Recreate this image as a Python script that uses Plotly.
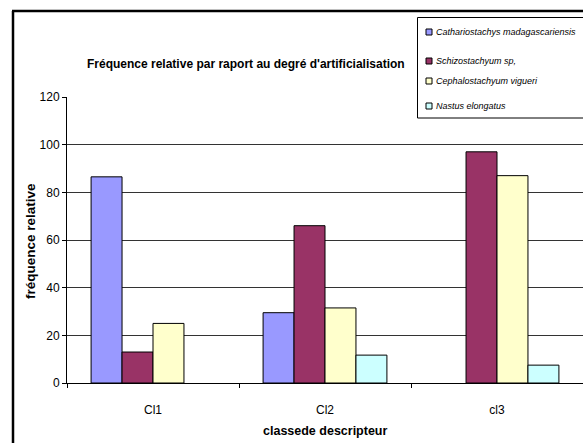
import plotly.graph_objects as go

# Relative frequency of each bamboo species per descriptor class
categories = ["Cl1", "Cl2", "cl3"]
species = [
    "Cathariostachys madagascariensis",
    "Schizostachyum sp,",
    "Cephalostachyum vigueri",
    "Nastus elongatus",
]
cathariostachys = [86.5, 29.5, 0]
schizostachyum = [13, 66, 97]
cephalostachyum = [25, 31.5, 87]
nastus = [0, 11.7, 7.5]
series = [cathariostachys, schizostachyum, cephalostachyum, nastus]
colors = ["#9999FF", "#993366", "#FFFFCC", "#CCFFFF"]

W, H = 583, 443
L, R, T, B = 67, 0, 97, 60
plot_w = W - L - R
plot_h = H - T - B


def px_to_paper_x(px):
    return (px - L) / plot_w


def px_to_paper_y(py):
    return 1 + (T - py) / plot_h


font_main = "Liberation Sans, Arial, sans-serif"

fig = go.Figure()
for name, vals, col in zip(species, series, colors):
    fig.add_trace(go.Bar(
        x=categories, y=vals, name=name,
        marker=dict(color=col,
                    line=dict(color="#000000",
                              width=[1 if v > 0 else 0 for v in vals])),
        showlegend=False,
    ))

shapes = []
annotations = []

# Outer chart frame (left and top edges)
shapes.append(dict(type="line", xref="paper", yref="paper",
                   x0=px_to_paper_x(13), x1=px_to_paper_x(13),
                   y0=px_to_paper_y(11), y1=px_to_paper_y(H + 5),
                   line=dict(color="#000000", width=2.5)))
shapes.append(dict(type="line", xref="paper", yref="paper",
                   x0=px_to_paper_x(12), x1=px_to_paper_x(W + 5),
                   y0=px_to_paper_y(11), y1=px_to_paper_y(11),
                   line=dict(color="#000000", width=2.5)))

# Legend box with swatches and italic labels
shapes.append(dict(type="rect", xref="paper", yref="paper",
                   x0=px_to_paper_x(417.5), x1=px_to_paper_x(W + 5),
                   y0=px_to_paper_y(118), y1=px_to_paper_y(17.5),
                   fillcolor="white", line=dict(color="#000000", width=1),
                   layer="above"))
entry_y = [32, 61, 81, 106]
for name, col, ey in zip(species, colors, entry_y):
    shapes.append(dict(type="rect", xref="paper", yref="paper",
                       x0=px_to_paper_x(426), x1=px_to_paper_x(432),
                       y0=px_to_paper_y(ey + 3), y1=px_to_paper_y(ey - 3),
                       fillcolor=col, line=dict(color="#000000", width=1),
                       layer="above"))
    annotations.append(dict(xref="paper", yref="paper",
                            x=px_to_paper_x(434), y=px_to_paper_y(ey),
                            xanchor="left", yanchor="middle", showarrow=False,
                            text=f"<i>{name}</i>",
                            font=dict(size=9, family=font_main, color="#000000")))

# Chart title
annotations.append(dict(xref="paper", yref="paper",
                        x=px_to_paper_x(246), y=px_to_paper_y(64),
                        xanchor="center", yanchor="middle", showarrow=False,
                        text="<b>Fréquence relative par raport au degré d'artificialisation</b>",
                        font=dict(size=12, family=font_main, color="#000000")))
# Axis titles
annotations.append(dict(xref="paper", yref="paper",
                        x=px_to_paper_x(325), y=px_to_paper_y(431),
                        xanchor="center", yanchor="middle", showarrow=False,
                        text="<b>classede descripteur</b>",
                        font=dict(size=12.5, family=font_main, color="#000000")))
annotations.append(dict(xref="paper", yref="paper",
                        x=px_to_paper_x(30), y=px_to_paper_y(241),
                        xanchor="center", yanchor="middle", showarrow=False,
                        textangle=-90,
                        text="<b>fréquence relative</b>",
                        font=dict(size=13.5, family=font_main, color="#000000")))

fig.update_layout(
    width=W, height=H,
    margin=dict(l=L, r=R, t=T, b=B, autoexpand=False),
    paper_bgcolor="white", plot_bgcolor="white",
    barmode="group", bargap=0.28, bargroupgap=0,
    font=dict(family=font_main, size=12, color="#000000"),
    showlegend=False,
    shapes=shapes,
    annotations=annotations,
    xaxis=dict(
        showline=True, linecolor="#000000", linewidth=1,
        ticks="outside", tickson="boundaries", ticklen=4, tickcolor="#000000",
        tickfont=dict(size=12), ticklabelstandoff=16,
        range=[-0.5, 2.5],
    ),
    yaxis=dict(
        range=[0, 120], dtick=20,
        showline=True, linecolor="#000000", linewidth=1,
        ticks="outside", ticklen=4, tickcolor="#000000",
        showgrid=True, gridcolor="#333333", gridwidth=1,
        tickfont=dict(size=12),
        zeroline=False,
    ),
)

fig.write_html("out.html")
